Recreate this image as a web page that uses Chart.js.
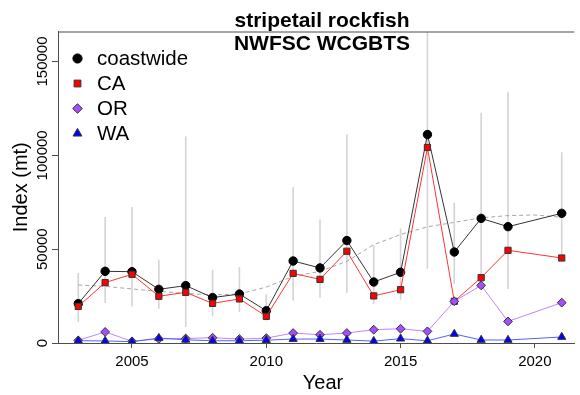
<!DOCTYPE html>
<html>
<head>
<meta charset="utf-8">
<title>stripetail rockfish</title>
<script src="https://cdn.jsdelivr.net/npm/chart.js@4/dist/chart.umd.min.js"></script>
<style>
  body { margin: 0; background: #fff; }
</style>
</head>
<body>
<canvas id="myChart" width="580" height="395"></canvas>
<script>
// survey years (no 2020 survey)
const years = [2003, 2004, 2005, 2006, 2007, 2008, 2009, 2010, 2011, 2012, 2013, 2014, 2015, 2016, 2017, 2018, 2019, 2021];
const coastwide = [21000, 38200, 38000, 28600, 30600, 24200, 26100, 17200, 43700, 40000, 54600, 32500, 37700, 111100, 48500, 66400, 62000, 69100];
const caIndex = [19500, 32200, 36600, 24900, 27000, 21100, 23500, 14200, 37100, 33900, 48900, 25100, 28400, 104200, 22200, 34800, 49400, 45300];
const orIndex = [1400, 5900, 900, 2200, 2400, 2800, 2100, 2600, 5300, 4400, 5300, 7100, 7600, 6200, 22200, 30700, 11500, 21500];
const waIndex = [1200, 1100, 700, 2600, 1700, 1200, 1200, 1500, 2100, 2100, 1600, 1000, 2300, 1200, 4800, 1600, 1600, 3200];
const ciLow = [11200, 21300, 19500, 18300, 8500, 14200, 16500, 12000, 22700, 24000, 26700, 20800, 23100, 39600, 31500, 32500, 28800, 47000];
const ciHigh = [37300, 67200, 72500, 44400, 110000, 39100, 40500, 25800, 83000, 65800, 111300, 51900, 61000, 166000, 74700, 122700, 133900, 101600];

// smoothed trend (dashed grey)
const trendYears = [2003, 2004, 2005, 2006, 2007, 2008, 2009, 2010, 2011, 2012, 2013, 2014, 2015, 2016, 2017, 2018, 2019, 2020, 2021];
const trend = [30900, 30200, 28800, 27500, 26400, 25600, 26100, 29800, 35500, 38200, 43500, 52400, 57800, 61900, 64300, 66700, 67900, 68200, 67000];

const xTicks = [2005, 2010, 2015, 2020];
const yTicks = [0, 50000, 100000, 150000];
const titleLines = ["stripetail rockfish", "NWFSC WCGBTS"];

const axisCol = "#4d4d4d";
const font = '"Liberation Sans", Arial, sans-serif';

function pts(xs, ys) {
    return xs.map((x, i) => ({ x: x, y: ys[i] }));
}

// vertical interval segments, broken by null points
function segments(xs, lo, hi) {
    let out = [];
    xs.forEach((x, i) => {
        out.push({ x: x, y: lo[i] }, { x: x, y: hi[i] }, { x: x, y: null });
    });
    return out;
}

const series = [
    { label: "coastwide", data: coastwide, style: "circle", radius: 4.2, fill: "#000000", line: "#333333" },
    { label: "CA", data: caIndex, style: "rect", radius: 4.4, fill: "#ff0000", line: "#ff3333" },
    { label: "OR", data: orIndex, style: "rectRot", radius: 4.4, fill: "#a64dff", line: "#c383ff" },
    { label: "WA", data: waIndex, style: "triangle", radius: 4.7, fill: "#0000ff", line: "#4f63ff" }
];

// R-style decorations: box top, rotated y labels, titles, legend
const rPlot = {
    id: "rPlot",
    afterDraw(chart) {
        const { ctx, chartArea: a, scales: { x, y } } = chart;
        ctx.save();

        ctx.strokeStyle = axisCol;
        ctx.lineWidth = 1;
        ctx.beginPath();
        ctx.moveTo(a.left, a.top + 0.5);
        ctx.lineTo(a.right, a.top + 0.5);
        ctx.stroke();

        ctx.fillStyle = "#000";
        ctx.font = "15px " + font;
        ctx.textAlign = "center";
        ctx.textBaseline = "alphabetic";
        yTicks.forEach(v => {
            ctx.save();
            ctx.translate(46.5, y.getPixelForValue(v));
            ctx.rotate(-Math.PI / 2);
            ctx.fillText(String(v), 0, 0);
            ctx.restore();
        });
        xTicks.forEach(v => {
            ctx.fillText(String(v), x.getPixelForValue(v), 365.5);
        });

        // axis titles
        ctx.font = "20px " + font;
        ctx.fillText("Year", 323, 389);
        ctx.save();
        ctx.translate(26.5, (a.top + a.bottom) / 2);
        ctx.rotate(-Math.PI / 2);
        ctx.fillText("Index (mt)", 0, 0);
        ctx.restore();

        // main title
        ctx.font = "bold 21px " + font;
        ctx.fillText(titleLines[0], 322, 26.5);
        ctx.fillText(titleLines[1], 322, 50);

        // legend
        ctx.textAlign = "left";
        ctx.font = "20.5px " + font;
        series.forEach((s, i) => {
            const cy = 58.5 + i * 25;
            ctx.fillStyle = s.fill;
            ctx.strokeStyle = i === 0 ? "#000" : "#333";
            ctx.lineWidth = 1;
            Chart.helpers.drawPoint(ctx, { pointStyle: s.style, radius: s.radius + 0.4, rotation: 0, borderWidth: 1 }, 77.5, cy);
            ctx.fillStyle = "#000";
            ctx.fillText(s.label, 97, cy + 6.5);
        });

        ctx.restore();
    }
};

const lineSets = series.map((s, i) => ({
    type: "line",
    label: s.label,
    data: pts(years, s.data),
    borderColor: s.line,
    borderWidth: 1,
    pointStyle: s.style,
    pointRadius: s.radius,
    pointBackgroundColor: s.fill,
    pointBorderColor: i === 0 ? "#000" : "#333",
    pointBorderWidth: 1,
    order: 3 - i
}));

const ctx = document.getElementById("myChart").getContext("2d");

const indexChart = new Chart(ctx, {
    type: "line",
    data: {
        datasets: lineSets.concat([
            {
                label: "trend",
                data: pts(trendYears, trend),
                borderColor: "#a6a6a6",
                borderWidth: 1,
                borderDash: [4, 3],
                pointRadius: 0,
                order: 10
            },
            {
                label: "interval",
                data: segments(years, ciLow, ciHigh),
                borderColor: "#d4d4d4",
                borderWidth: 1.6,
                pointRadius: 0,
                spanGaps: false,
                order: 20
            }
        ])
    },
    options: {
        responsive: false,
        animation: false,
        devicePixelRatio: 1,
        layout: { padding: { top: 31.5, left: 0, right: 0, bottom: 0 } },
        scales: {
            x: {
                type: "linear",
                offset: false,
                min: 2002.245,
                max: 2021.468,
                afterBuildTicks: s => { s.ticks = xTicks.map(v => ({ value: v })); },
                afterFit: s => { s.height = 52; },
                ticks: { display: false },
                grid: { drawOnChartArea: false, drawTicks: true, tickLength: 5, color: axisCol },
                border: { display: true, color: axisCol, width: 1 }
            },
            y: {
                type: "linear",
                min: 0,
                max: 166000,
                afterBuildTicks: s => { s.ticks = yTicks.map(v => ({ value: v })); },
                afterFit: s => { s.width = 58; },
                ticks: { display: false },
                grid: { drawOnChartArea: false, drawTicks: true, tickLength: 6, color: axisCol },
                border: { display: true, color: axisCol, width: 1 }
            }
        },
        plugins: {
            legend: { display: false },
            tooltip: { enabled: false },
            title: { display: false }
        }
    },
    plugins: [rPlot]
});
</script>
</body>
</html>
